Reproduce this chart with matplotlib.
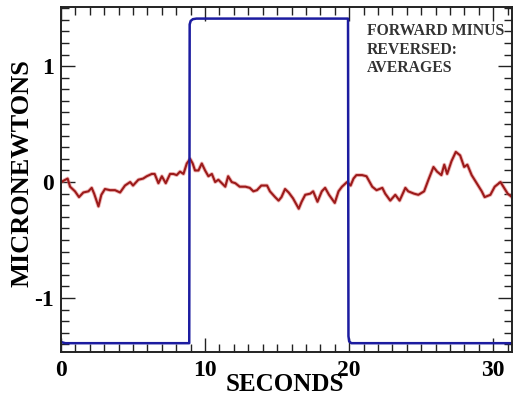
import matplotlib
matplotlib.use("Agg")
import matplotlib.pyplot as plt
from matplotlib.ticker import MultipleLocator, FixedLocator

# Blue square-wave (force drive)
blue_t = [0.0, 0.3, 8.90, 8.93, 9.0, 9.15, 9.4, 19.92, 19.95, 20.0, 20.15, 31.5]
blue_v = [-1.38, -1.39, -1.39, 1.36, 1.39, 1.405, 1.41, 1.41, -1.33, -1.375, -1.39, -1.39]

# Red averaged trace
red_t = [0.0, 0.46, 0.63, 0.97, 1.25, 1.55, 1.9, 2.13, 2.3, 2.6, 2.8, 3.05, 3.4, 3.75,
         4.1, 4.44, 4.8, 5.0, 5.37, 5.7, 5.95, 6.3, 6.5, 6.76, 7.0, 7.27, 7.57, 7.8,
         8.03, 8.26, 8.5, 8.73, 8.96, 9.14, 9.3, 9.54, 9.77, 10.0, 10.23, 10.47, 10.7,
         10.92, 11.16, 11.4, 11.6, 11.85, 12.1, 12.4, 12.8, 13.1, 13.35, 13.6, 13.9,
         14.3, 14.5, 14.86, 15.1, 15.3, 15.55, 15.8, 16.1, 16.5, 16.7, 16.95, 17.3,
         17.5, 17.8, 18.1, 18.33, 18.6, 19.0, 19.26, 19.5, 19.85, 20.1, 20.3, 20.5,
         20.9, 21.2, 21.6, 21.9, 22.3, 22.5, 22.85, 23.2, 23.5, 23.9, 24.1, 24.5,
         24.8, 25.2, 25.5, 25.85, 26.1, 26.4, 26.6, 26.8, 27.1, 27.4, 27.7, 27.98,
         28.2, 28.5, 28.85, 29.2, 29.4, 29.8, 30.1, 30.5, 30.7, 31.0, 31.3]
red_v = [0.0, 0.03, -0.04, -0.08, -0.13, -0.09, -0.08, -0.05, -0.1, -0.21, -0.11, -0.06,
         -0.07, -0.07, -0.09, -0.03, 0.0, -0.03, 0.02, 0.03, 0.05, 0.07, 0.07, -0.01,
         0.05, -0.01, 0.07, 0.07, 0.06, 0.09, 0.07, 0.16, 0.2, 0.16, 0.1, 0.1, 0.16,
         0.1, 0.05, 0.07, 0.0, 0.02, -0.01, -0.04, 0.05, 0.0, -0.01, -0.04, -0.04,
         -0.05, -0.08, -0.07, -0.03, -0.03, -0.08, -0.13, -0.16, -0.13, -0.06, -0.09,
         -0.14, -0.23, -0.17, -0.11, -0.1, -0.08, -0.17, -0.08, -0.05, -0.11, -0.18,
         -0.08, -0.04, 0.0, -0.03, 0.03, 0.06, 0.06, 0.05, -0.04, -0.07, -0.05, -0.1,
         -0.16, -0.11, -0.16, -0.05, -0.08, -0.1, -0.11, -0.08, 0.02, 0.13, 0.09, 0.06,
         0.15, 0.07, 0.18, 0.26, 0.23, 0.13, 0.15, 0.06, -0.01, -0.08, -0.13, -0.11,
         -0.04, 0.0, -0.04, -0.1, -0.13]

x_ticks = [0, 10, 20, 30]
y_ticks = [-1, 0, 1]
x_labels = ["0", "10", "20", "30"]
y_labels = ["-1", "0", "1"]

serif = ["Liberation Serif", "DejaVu Serif"]

fig = plt.figure(figsize=(5.13, 3.98), dpi=100)
ax = fig.add_axes([61/513, 1 - 352/398, (512 - 61)/513, (352 - 7)/398])

ax.plot(red_t, red_v, color="#e07070", lw=2.8, alpha=0.5, solid_joinstyle="round")
ax.plot(red_t, red_v, color="#9c1a1a", lw=1.5, solid_joinstyle="round")
ax.plot(blue_t, blue_v, color="#1c1ca0", lw=1.8)

ax.set_xlim(0, 31.3)
ax.set_ylim(-1.466, 1.51)

ax.xaxis.set_major_locator(FixedLocator(x_ticks))
ax.yaxis.set_major_locator(FixedLocator(y_ticks))
ax.xaxis.set_minor_locator(MultipleLocator(1))
ax.yaxis.set_minor_locator(MultipleLocator(0.1))
ax.set_xticklabels(x_labels)
ax.set_yticklabels(y_labels)

ax.tick_params(which="both", direction="in", top=True, right=True, width=1.0, color="#222222")
ax.tick_params(which="major", length=10)
ax.tick_params(which="minor", length=6)
ax.tick_params(axis="x", which="major", pad=6)
ax.tick_params(axis="y", which="major", pad=5)
for lbl in ax.get_xticklabels() + ax.get_yticklabels():
    lbl.set_fontfamily(serif)
    lbl.set_fontweight("bold")
    lbl.set_fontsize(17)
for s in ax.spines.values():
    s.set_linewidth(1.4)
    s.set_color("#222222")

ax.set_xlabel("SECONDS", fontfamily=serif, fontweight="bold", fontsize=18)
ax.xaxis.set_label_coords(0.4956, -0.06)
ax.set_ylabel("MICRONEWTONS", fontfamily=serif, fontweight="bold", fontsize=19)
ax.yaxis.set_label_coords(-0.062, 0.52)

ax.text(0.678, 0.953, "FORWARD MINUS\nREVERSED:\nAVERAGES", transform=ax.transAxes,
        fontfamily=serif, fontweight="bold", fontsize=11.3, color="#333333",
        va="top", ha="left", linespacing=1.2)

fig.savefig("out.png", dpi=100)
